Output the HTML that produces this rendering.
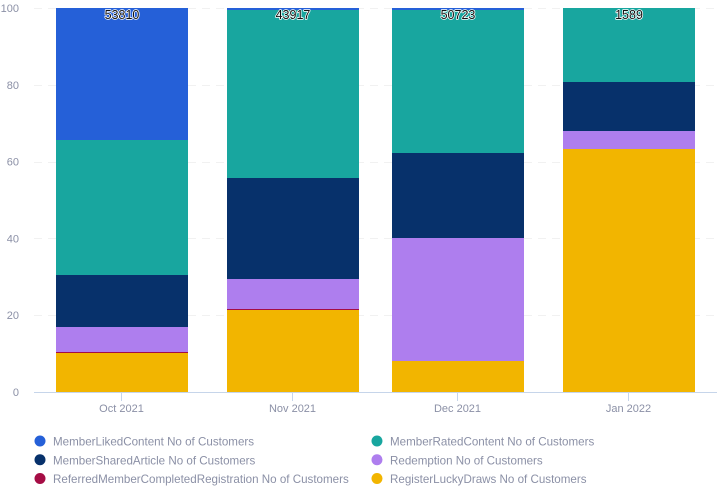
<!DOCTYPE html>
<html>
<head>
<meta charset="utf-8">
<style>
html,body{margin:0;padding:0;background:#fff;}
svg{display:block;font-family:"Liberation Sans",sans-serif;}
.tick{font-size:11px;fill:#8b90a6;}
.leg{font-size:11.6px;fill:#8b90a6;}
.total{font-size:12.5px;fill:#111;stroke:#fff;stroke-width:1.5px;paint-order:stroke;stroke-linejoin:round;text-anchor:middle;}
</style>
</head>
<body>
<svg id="chart" width="723" height="490" viewBox="0 0 723 490" xmlns="http://www.w3.org/2000/svg"></svg>
<script>
const months = ["2021-10-01", "2021-11-01", "2021-12-01", "2022-01-01"];
const monthLabels = ["Oct 2021", "Nov 2021", "Dec 2021", "Jan 2022"];
const totals = [53810, 43917, 50723, 1589];
const yTicks = [0, 20, 40, 60, 80, 100];

const registerLuckyDraws = [10.2, 21.4, 8.05, 63.3];
const referredMember = [0.3, 0.3, 0, 0];
const redemption = [6.4, 7.7, 32.05, 4.7];
const memberSharedArticle = [13.6, 26.3, 22.1, 12.7];
const memberRatedContent = [35.1, 43.8, 37.3, 19.3];
const memberLikedContent = [34.4, 0.5, 0.5, 0];

const stackOrder = [registerLuckyDraws, referredMember, redemption, memberSharedArticle, memberRatedContent, memberLikedContent];
const stackKeys = ["register-lucky-draws", "referred-member", "redemption", "member-shared-article", "member-rated-content", "member-liked-content"];

const legendNames = [
  "MemberLikedContent No of Customers",
  "MemberRatedContent No of Customers",
  "MemberSharedArticle No of Customers",
  "Redemption No of Customers",
  "ReferredMemberCompletedRegistration No of Customers",
  "RegisterLuckyDraws No of Customers"
];

const stackFill = ["#f2b500", "#a50d45", "#ae7eee", "#07316b", "#18a69f", "#2560d8"];
const legendFill = ["#2560d8", "#18a69f", "#07316b", "#ae7eee", "#a50d45", "#f2b500"];

const svg = document.getElementById("chart");
const NS = "http://www.w3.org/2000/svg";
function make(tag, props, text) {
  const el = document.createElementNS(NS, tag);
  for (const k in props) el.setAttribute(k, props[k]);
  if (text !== undefined) el.textContent = text;
  svg.appendChild(el);
  return el;
}

const plotLeft = 34, plotRight = 717, plotTop = 8, plotBottom = 392, barWidth = 132;
const t0 = Date.parse(months[0]), t1 = Date.parse(months[months.length - 1]);
function xScale(dateStr) {
  return Math.round(122 + (Date.parse(dateStr) - t0) / (t1 - t0) * 507);
}
function yScale(v) {
  return plotBottom - v / 100 * (plotBottom - plotTop);
}

yTicks.forEach(function (t) {
  if (t !== 0) {
    const grid = make("line", {x1: plotLeft, x2: plotRight, y1: Math.round(yScale(t)) + 0.5, y2: Math.round(yScale(t)) + 0.5, stroke: "#f1f1f1", "stroke-width": 1, "stroke-dasharray": "8 6"});
    
    
  }
  const lab = make("text", {x: 19, y: yScale(t) + 4, "text-anchor": "end", "class": "tick"}, String(t));
  
  
});

months.forEach(function (m, i) {
  const cx = xScale(m);
  let acc = 0;
  stackOrder.forEach(function (series, s) {
    const v = series[i];
    if (v > 0) {
      const top = Math.round(yScale(Math.min(acc + v, 100)));
      const bot = Math.round(yScale(acc));
      const r = make("rect", {x: cx - barWidth / 2, y: top, width: barWidth, height: Math.max(bot - top, 1), fill: stackFill[s], "shape-rendering": "crispEdges"});
      
      
    }
    acc += v;
  });
  const tick = make("line", {x1: cx - 0.5, x2: cx - 0.5, y1: plotBottom, y2: plotBottom + 9, stroke: "#c6d5ea", "stroke-width": 1});
  
  
  const lab = make("text", {x: cx - 0.5, y: 412, "text-anchor": "middle", "class": "tick"}, monthLabels[i]);
  
  
  const total = make("text", {x: cx, y: yScale(Math.min(acc, 100)) + 11, "class": "total"}, String(totals[i]));
  
  
});

const axis = make("line", {x1: plotLeft, x2: plotRight, y1: plotBottom + 0.5, y2: plotBottom + 0.5, stroke: "#c6d5ea", "stroke-width": 1});



legendNames.forEach(function (name, i) {
  const col = i % 2, row = Math.floor(i / 2);
  const mx = col === 0 ? 40 : 377;
  const my = 441 + row * 18.75;
  const dot = make("circle", {cx: mx, cy: my, r: 5.5, fill: legendFill[i]});
  
  
  const txt = make("text", {x: mx + 13, y: my + 4.5, "class": "leg"}, name);
  
  
});
</script>
</body>
</html>
